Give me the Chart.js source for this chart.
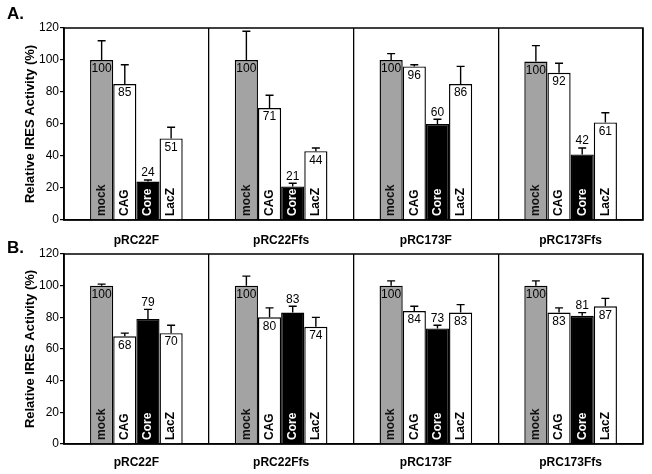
<!DOCTYPE html>
<html>
<head>
<meta charset="utf-8">
<script src="https://cdn.jsdelivr.net/npm/chart.js@4.4.0/dist/chart.umd.min.js"></script>
<style>
  body { margin: 0; background: #fff; }
  #wrap { position: relative; width: 652px; height: 474px; font-family: "Liberation Sans", Arial, sans-serif; }
  canvas { position: absolute; left: 0; }
  .panel { position: absolute; left: 7px; font-weight: bold; font-size: 17px; }
</style>
</head>
<body>
<div id="wrap">
  <canvas id="chartA" width="652" height="250" style="top:0"></canvas>
  <canvas id="chartB" width="652" height="248" style="top:226px"></canvas>
  <div class="panel" style="top:4px">A.</div>
  <div class="panel" style="top:238px">B.</div>
</div>
<script>
const groups = ['pRC22F', 'pRC22Ffs', 'pRC173F', 'pRC173Ffs'];
const treatments = ['mock', 'CAG', 'Core', 'LacZ'];
const yTicks = [0, 20, 40, 60, 80, 100, 120];

// panel A: values per treatment across groups, and top of error bar
const mockA = [100, 100, 100, 99];
const cagA = [85, 70, 96, 92];
const coreA = [24, 21, 60, 41];
const lacZA = [51, 43, 85, 61];
const mockErrA = [112, 118, 104, 109];
const cagErrA = [97, 78, 97, 98];
const coreErrA = [25, 23, 63, 45];
const lacZErrA = [58, 45, 96, 67];
const labelsA = [[100, 85, 24, 51], [100, 71, 21, 44], [100, 96, 60, 86], [100, 92, 42, 61]];

// panel B
const mockB = [100, 100, 100, 100];
const cagB = [68, 80, 84, 83];
const coreB = [79, 83, 73, 81];
const lacZB = [70, 74, 83, 87];
const mockErrB = [101, 106, 103, 103];
const cagErrB = [70, 86, 87, 86];
const coreErrB = [85, 87, 75, 83];
const lacZErrB = [75, 80, 88, 92];
const labelsB = [[100, 68, 79, 70], [100, 80, 83, 74], [100, 84, 73, 83], [100, 83, 81, 87]];

const fills = ['#a3a3a3', '#ffffff', '#000000', '#ffffff'];
const nameColors = ['#111', '#000', '#fff', '#000'];

const barDecor = {
  id: 'barDecor',
  afterDatasetsDraw(chart, args, opts) {
    const ctx = chart.ctx;
    const y = chart.scales.y;
    const area = chart.chartArea;
    ctx.save();
    // frame
    ctx.strokeStyle = '#000';
    ctx.lineWidth = 1.5;
    ctx.strokeRect(area.left, area.top, area.right - area.left, area.bottom - area.top);
    chart.data.datasets.forEach((ds, i) => {
      const meta = chart.getDatasetMeta(i);
      meta.data.forEach((bar, j) => {
        const top = bar.y;
        const errY = y.getPixelForValue(opts.errors[i][j]);
        // error bar
        ctx.strokeStyle = '#000';
        ctx.lineWidth = 1.4;
        ctx.beginPath();
        ctx.moveTo(bar.x, top);
        ctx.lineTo(bar.x, errY);
        ctx.moveTo(bar.x - 4, errY);
        ctx.lineTo(bar.x + 4, errY);
        ctx.stroke();
        // value
        ctx.font = '12px "Liberation Sans", Arial, sans-serif';
        ctx.textAlign = 'center';
        ctx.fillStyle = '#000';
        const v = opts.labels[j][i];
        if (i === 2) {
          ctx.textBaseline = 'bottom';
          ctx.fillText(v, bar.x, errY - 1);
        } else {
          ctx.textBaseline = 'top';
          ctx.fillText(v, bar.x, top + 3);
        }
        // treatment name
        ctx.save();
        ctx.translate(bar.x, area.bottom - 4);
        ctx.rotate(-Math.PI / 2);
        ctx.font = 'bold 12px "Liberation Sans", Arial, sans-serif';
        ctx.textAlign = 'left';
        ctx.textBaseline = 'middle';
        ctx.fillStyle = nameColors[i];
        ctx.fillText(treatments[i], 0, 0);
        ctx.restore();
      });
    });
    ctx.restore();
  }
};

function makeChart(id, series, errors, labels, labelPad) {
  return new Chart(document.getElementById(id), {
    type: 'bar',
    data: {
      labels: groups,
      datasets: series.map((s, i) => ({
        label: treatments[i],
        data: s,
        backgroundColor: fills[i],
        borderColor: '#000',
        borderWidth: 1.4,
        categoryPercentage: 0.64,
        barPercentage: 1
      }))
    },
    options: {
      responsive: false,
      animation: false,
      layout: { padding: { top: 28, right: 9, left: 0, bottom: 0 } },
      plugins: {
        legend: { display: false },
        tooltip: { enabled: false },
        barDecor: { errors: errors, labels: labels }
      },
      scales: {
        x: {
          grid: { offset: true, color: '#000', lineWidth: 1.3, drawTicks: false },
          border: { color: '#000', width: 1.5 },
          ticks: { color: '#000', padding: labelPad, font: { family: '"Liberation Sans", Arial, sans-serif', size: 12, weight: 'bold' } },
          afterFit: (s) => { s.height = 30; }
        },
        y: {
          min: 0, max: 120,
          afterBuildTicks: (s) => { s.ticks = yTicks.map(v => ({ value: v })); },
          grid: { display: true, drawOnChartArea: false, color: '#000', tickLength: 4, lineWidth: 1.2 },
          border: { color: '#000', width: 1.5 },
          ticks: { color: '#000', padding: 1, font: { family: '"Liberation Sans", Arial, sans-serif', size: 12 } },
          title: {
            display: true, text: 'Relative IRES Activity (%)', color: '#000',
            padding: { top: 23, bottom: 0 },
            font: { family: '"Liberation Sans", Arial, sans-serif', size: 13, weight: 'bold' }
          },
          afterFit: (s) => { s.width = 64; }
        }
      }
    },
    plugins: [barDecor]
  });
}

makeChart('chartA', [mockA, cagA, coreA, lacZA], [mockErrA, cagErrA, coreErrA, lacZErrA], labelsA, 13);
makeChart('chartB', [mockB, cagB, coreB, lacZB], [mockErrB, cagErrB, coreErrB, lacZErrB], labelsB, 11);
</script>
</body>
</html>
